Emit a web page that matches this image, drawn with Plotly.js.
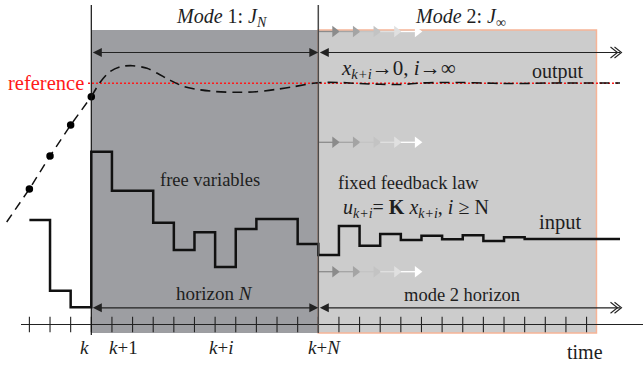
<!DOCTYPE html>
<html><head><meta charset="utf-8">
<script src="https://cdn.plot.ly/plotly-3.0.1.min.js"></script>
<style>html,body{margin:0;padding:0;background:#fff;}#chart{width:643px;height:365px;}</style>
</head><body><div id="chart"></div>
<script>
// ---------- data (time in steps, k = 0; values in plot units above the time axis) ----------
const N = 11;                       // prediction horizon
const mode2End = 24.48;             // end of mode-2 shaded region
const lineEnd = 25.62;              // end of drawn signals
const tickSteps = [-3,-2,-1,0,1,2,3,4,5,6,7,8,9,10,11,12,13,14,15,16,17,18,19,20,21,22,23,24];
const tickLabels = ["<i>k</i>", "<i>k</i>+1", "<i>k</i>+<i>i</i>", "<i>k</i>+<i>N</i>"];
const tickLabelPos = [-0.35, 1.55, 6.3, 11.3];

const referenceValue = 241.2;

const pastOutputT = [-4.1, -3, -2, -1, 0];
const pastOutputY = [102.5, 135.5, 168.5, 199.5, 227.8];

const predOutputT = [0, 0.45, 0.9, 1.4, 2, 2.7, 3.2, 3.8, 4.5, 5.1, 6, 7, 8, 9, 9.8, 11, 12, 13, 14, 15, 16, 17, 18, 19, 20, 21, 22, 23, 24, 25.62];
const predOutputY = [227.8, 242.8, 252.8, 257.8, 258.8, 256.2, 251.2, 244.5, 237.8, 235.2, 233.0, 232.2, 232.8, 235.2, 237.8, 241.8, 242.0, 241.0, 240.2, 240.0, 241.5, 242.0, 242.0, 241.5, 241.0, 241.0, 241.5, 241.5, 241.5, 241.5];

const inputT = [-3,-2,-1,0,1,2,3,4,5,6,7,8,9,10,11,12,13,14,15,16,17,18,19,20,21,lineEnd];
const inputY = [104.5, 33.8, 17.2, 172.8, 133.8, 133.8, 101.8, 74.5, 92.2, 57.5, 95.5, 105.5, 105.5, 80.5, 69.5, 98.5, 78.8, 90.5, 84.5, 88.8, 85.2, 89.2, 83.5, 87.2, 85.5, 85.5];

const fadeColors = ['#8b8b8b', '#a4a4a4', '#c3c3c3', '#e0e0e0', '#ffffff'];

// ---------- pixel helpers for decoration placement ----------
const X0PX = 91.3, DX = 20.636, Y0PX = 324.5;
const tx = px => (px - X0PX) / DX;
const vy = py => Y0PX - py;

const FONT = 'Liberation Serif';
const TXT = '#1e1e1e';

const traces = [];

// fading arrows in mode 2 region
[31.5, 142.3, 271.7].forEach(py => {
  fadeColors.forEach((c, i) => {
    traces.push({x: [N + i, N + i + 0.78], y: [vy(py), vy(py)], mode: 'lines',
      line: {color: c, width: 1.3}, hoverinfo: 'skip', showlegend: false});
    traces.push({x: [N + i + 0.8], y: [vy(py)], mode: 'markers',
      marker: {symbol: 'triangle-right', size: 10, color: c}, hoverinfo: 'skip', showlegend: false});
  });
});

// reference
traces.push({x: [tx(88), lineEnd], y: [referenceValue, referenceValue], mode: 'lines',
  line: {color: '#ff1a1a', width: 1.6, dash: '2px,2px'}, showlegend: false});

// past outputs
traces.push({x: pastOutputT, y: pastOutputY, mode: 'lines',
  line: {color: '#111', width: 1.5, dash: '9px,6px'}, showlegend: false});
traces.push({x: pastOutputT.slice(1), y: pastOutputY.slice(1), mode: 'markers',
  marker: {color: '#000', size: 7.5, line: {width: 0}}, showlegend: false});

// predicted output
traces.push({x: predOutputT, y: predOutputY, mode: 'lines',
  line: {color: '#111', width: 1.6, dash: '10px,6px', shape: 'spline', smoothing: 0.8}, showlegend: false});

// input
traces.push({x: inputT, y: inputY, mode: 'lines',
  line: {color: '#111', width: 2.5, shape: 'hv'}, showlegend: false});

// time axis
traces.push({x: [tx(21), tx(643)], y: [0, 0], mode: 'lines',
  line: {color: '#222', width: 1.2}, showlegend: false});
traces.push({x: tickSteps, y: tickSteps.map(() => 0), mode: 'markers',
  marker: {symbol: 'line-ns-open', size: 11, color: '#222', line: {width: 1.1, color: '#222'}}, showlegend: false});

// ---------- shapes ----------
const shapes = [
  {type: 'rect', layer: 'below', x0: 0, x1: N, y0: vy(333), y1: vy(30), fillcolor: '#9d9ea2', line: {width: 0}},
  {type: 'rect', layer: 'below', x0: N, x1: mode2End, y0: vy(333), y1: vy(30), fillcolor: '#cccccc', line: {color: '#f6b497', width: 1.5}},
  {type: 'line', x0: 0, x1: 0, y0: vy(335), y1: vy(5), line: {color: '#111', width: 1.2}},
  {type: 'line', x0: N, x1: N, y0: vy(333), y1: vy(5), line: {color: '#4a4a4a', width: 1.5}},
];
function chevrons(pyc) {
  [610.5, 614.5].forEach(px0 => {
    shapes.push({type: 'path', path: `M${tx(px0)},${vy(pyc - 5.5)} L${tx(px0 + 7)},${vy(pyc)} L${tx(px0)},${vy(pyc + 5.5)}`,
      line: {color: '#222', width: 1.1}});
  });
}
chevrons(52.5);
chevrons(307.8);

// ---------- annotations ----------
const ann = [];
function arrow(x0, x1, y, both) {
  ann.push({x: x1, y: y, ax: x0, ay: y, xref: 'x', yref: 'y', axref: 'x', ayref: 'y', text: '',
    showarrow: true, arrowside: both ? 'end+start' : 'start', arrowhead: 2, startarrowhead: 2,
    arrowsize: 1.5, startarrowsize: 1.5, arrowwidth: 1.2, arrowcolor: '#222', standoff: 0, startstandoff: 0});
}
arrow(0, N, vy(52.5), true);
arrow(N, tx(620), vy(52.5), false);
arrow(0, N, vy(307.8), true);
arrow(N, tx(620), vy(307.8), false);

function label(text, px, py, size, color, xanchor) {
  ann.push({x: tx(px), y: vy(py), xref: 'x', yref: 'y', text: text, showarrow: false,
    xanchor: xanchor || 'center', yanchor: 'middle', font: {family: FONT, size: size, color: color || TXT}});
}
label('<i>Mode</i> 1: <i>J<sub>N</sub></i>', 221, 17, 20);
label('<i>Mode</i> 2: <i>J</i><sub>∞</sub>', 460, 17, 20);
label('<i>x<sub>k+i</sub></i>→0, <i>i</i>→∞', 398, 69, 21);
label('output', 558, 71, 20);
label('reference', 86, 83, 20.5, '#ff1a1a', 'right');
label('free variables', 210, 180, 18.5);
label('fixed feedback law', 408.5, 183, 18.5);
label('<i>u<sub>k+i</sub></i>= <b>K</b> <i>x<sub>k+i</sub></i>, <i>i</i> ≥ N', 415.5, 208, 20);
label('input', 559.5, 222, 20.5);
label('horizon <i>N</i>', 214, 293, 19);
label('mode 2 horizon', 462, 295, 18.5);
label('time', 584.7, 352, 20);
tickLabels.forEach((t, i) => {
  ann.push({x: tickLabelPos[i], y: vy(347), xref: 'x', yref: 'y', text: t, showarrow: false,
    xanchor: 'center', yanchor: 'middle', font: {family: FONT, size: 19, color: TXT}});
});

const layout = {
  width: 643, height: 365, margin: {l: 0, r: 0, t: 0, b: 0},
  paper_bgcolor: '#ffffff', plot_bgcolor: '#ffffff',
  font: {family: FONT},
  xaxis: {range: [tx(0), tx(643)], visible: false, fixedrange: true},
  yaxis: {range: [vy(365), vy(0)], visible: false, fixedrange: true},
  shapes: shapes, annotations: ann, showlegend: false
};
Plotly.newPlot('chart', traces, layout, {staticPlot: true, displayModeBar: false});
</script></body></html>
